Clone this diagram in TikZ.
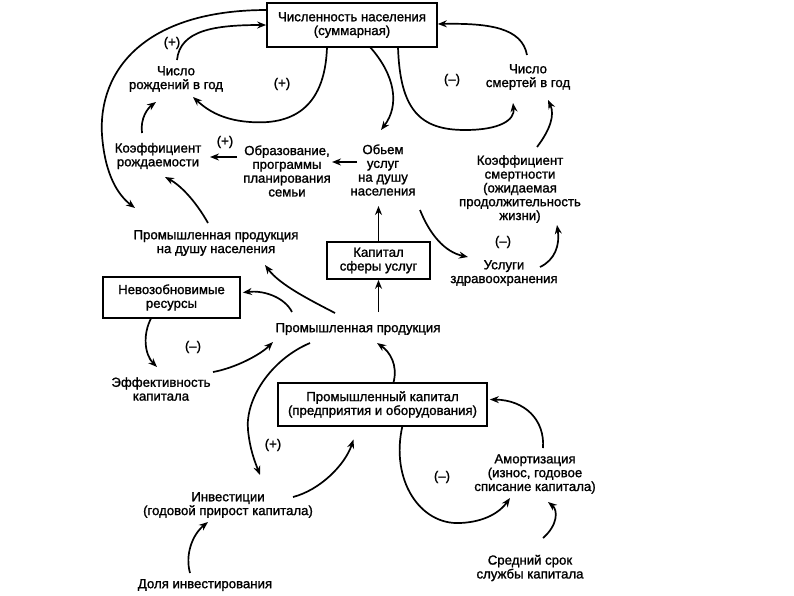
\documentclass[tikz,border=0pt]{standalone}
\usepackage{fontspec}
\setmainfont[FakeBold=1.3]{Liberation Sans}
\usetikzlibrary{arrows.meta,calc}
\begin{document}
\begin{tikzpicture}[x=1pt,y=-1pt,
  txt/.style={inner sep=0pt, align=center, font=\fontsize{13.2}{13.8}\selectfont},
  box/.style={txt, draw, line width=1.7pt},
  sgn/.style={inner sep=0pt, font=\fontsize{13.2}{14}\selectfont},
  arr/.style={line width=1.7pt, -{Stealth[length=9pt,width=7pt]}},
]
\fill[white] (0,0) rectangle (794,595);
\useasboundingbox (0,0) rectangle (794,595);

% nodes
\node[box, minimum width=170pt, minimum height=44pt] (pop) at (352,25) {Численность населения\\(суммарная)};
\node[txt] (births) at (176,79) {Число\\рождений в год};
\node[txt] (deaths) at (528,77) {Число\\смертей в год};
\node[sgn] (s1) at (172,43) {(+)};
\node[sgn] (s2) at (282,84) {(+)};
\node[sgn] (s3) at (452,80) {(–)};
\node[txt] (brate) at (158,156) {Коэффициент\\рождаемости};
\node[sgn] (s4) at (225,142) {(+)};
\node[txt] (edu) at (287,171) {Образование,\\программы\\планирования\\семьи};
\node[txt] (serv) at (383,170) {Обьем\\услуг\\на душу\\населения};
\node[txt] (drate) at (520,189) {Коэффициент\\смертности\\(ожидаемая\\продолжительность\\жизни)};
\node[sgn] (s5) at (503,242) {(–)};
\node[txt] (health) at (504,273) {Услуги\\здравоохранения};
\node[txt] (ippc) at (216,243) {Промышленная продукция\\на душу населения};
\node[box, minimum width=103pt, minimum height=37pt] (scap) at (378.5,260.5) {Капитал\\сферы услуг};
\node[box, minimum width=137pt, minimum height=41pt] (nonren) at (171.5,297.5) {Невозобновимые\\ресурсы};
\node[txt] (iout) at (358,329) {Промышленная продукция};
\node[sgn] (s6) at (193,347) {(–)};
\node[txt] (eff) at (161,389) {Эффективность\\капитала};
\node[box, minimum width=209pt, minimum height=43pt] (icap) at (382.5,404.5) {Промышленный капитал\\(предприятия и оборудования)};
\node[sgn] (s7) at (273,445) {(+)};
\node[txt] (inv) at (228,505) {Инвестиции\\(годовой прирост капитала)};
\node[sgn] (s8) at (442,477) {(–)};
\node[txt] (amort) at (535,474) {Амортизация\\(износ, годовое\\списание капитала)};
\node[txt] (share) at (205,585) {Доля инвестирования};
\node[txt] (life) at (530,568) {Средний срок\\службы капитала};

% connectors
\draw[arr] ($(pop)+(-85,-15)$) .. controls (145,10) and (98,70) .. (102,135) .. controls (105,175) and (118,195) .. ($(ippc)+(-81,-35)$);
\draw[arr] ($(births)+(1,-19)$) .. controls (180,30) and (215,25) .. (pop.west);
\draw[arr] ($(pop)+(-25,22)$) .. controls (325,110) and (290,125) .. (250,122) .. controls (220,120) and (205,108) .. ($(births)+(17,18)$);
\draw[arr] ($(pop)+(18,22)$) .. controls (395,75) and (400,105) .. ($(serv)+(-2,-40)$);
\draw[arr] ($(pop)+(46,22)$) .. controls (400,110) and (420,130) .. (465,130) .. controls (500,130) and (515,120) .. ($(deaths)+(-15,26)$);
\draw[arr] ($(drate)+(17,-42)$) .. controls (550,130) and (555,115) .. ($(deaths)+(20,23)$);
\draw[arr] ($(deaths)+(-1,-22)$) .. controls (522,28) and (490,23) .. ($(pop.east)+(0,-1)$);
\draw[arr] ($(brate)+(-16,-23)$) .. controls (140,118) and (148,108) .. ($(births)+(-20,23)$);
\draw[arr] ($(edu)+(-50,-14)$) -- ($(brate)+(52,1)$);
\draw[arr] ($(serv)+(-26,-8)$) -- ($(edu)+(45,-9)$);
\draw[arr] ($(ippc)+(-8,-20)$) .. controls (195,200) and (180,185) .. ($(brate)+(7,21)$);
\draw[arr] (scap.north) -- ($(serv)+(-4.5,36)$);
\draw[arr] ($(serv)+(37,40)$) .. controls (430,235) and (445,252) .. ($(health)+(-36,-16)$);
\draw[arr] ($(health)+(36,-6)$) .. controls (555,260) and (560,245) .. ($(drate)+(37,36)$);
\draw[arr] ($(iout)+(20.5,-17)$) -- (scap.south);
\draw[arr] ($(iout)+(-23,-16)$) .. controls (310,300) and (280,285) .. ($(ippc)+(49,22)$);
\draw[arr] ($(iout)+(-66,-17)$) .. controls (285,298) and (265,290) .. ($(nonren.east)+(2,-5)$);
\draw[arr] ($(nonren)+(-20,20)$) .. controls (142,335) and (145,355) .. ($(eff)+(-4,-22)$);
\draw[arr] ($(eff)+(52,-17)$) .. controls (235,368) and (260,355) .. ($(iout)+(-85,13)$);
\draw[arr] ($(iout)+(-48,14)$) .. controls (270,360) and (245,400) .. (248,430) .. controls (250,450) and (255,462) .. ($(inv)+(32,-30)$);
\draw[arr] ($(icap)+(11,-22)$) .. controls (398,365) and (390,352) .. ($(iout)+(19,14)$);
\draw[arr] ($(inv)+(65,-8)$) .. controls (320,490) and (345,465) .. ($(icap)+(-29,35)$);
\draw[arr] ($(share)+(-15,-12)$) .. controls (185,555) and (192,535) .. ($(inv)+(-20,17)$);
\draw[arr] ($(amort)+(8,-26)$) .. controls (545,420) and (525,400) .. ($(icap.east)+(2,-5)$);
\draw[arr] ($(icap)+(20,21)$) .. controls (390,480) and (420,525) .. (460,523) .. controls (485,522) and (500,512) .. ($(amort)+(-25,24)$);
\draw[arr] ($(life)+(13,-30)$) .. controls (558,525) and (558,510) .. ($(amort)+(13,28)$);
\end{tikzpicture}
\end{document}
